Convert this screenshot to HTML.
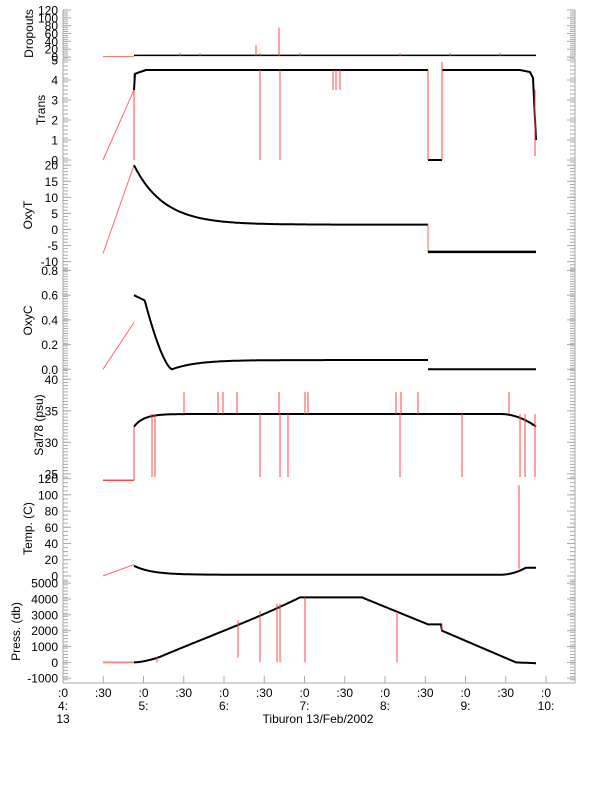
<!DOCTYPE html>
<html><head><meta charset="utf-8"><style>body{margin:0;background:#fff}svg{display:block}text{font-family:"Liberation Sans",sans-serif;font-size:12px;fill:#000}</style></head>
<body><svg id="s" width="612" height="785" xmlns="http://www.w3.org/2000/svg"></svg>
<script>
const S=document.getElementById('s');let h='';
const X=t=>63+80.5*t;
const L=63,R=575;
function panel(top,bot,vmin,vmax,ticks,minor,title,tx0,fmt){
 const Y=v=>bot-(v-vmin)/(vmax-vmin)*(bot-top);
 h+=`<line x1="${L}" y1="${top}" x2="${L}" y2="${bot}" stroke="#aaa"/><line x1="${R}" y1="${top}" x2="${R}" y2="${bot}" stroke="#aaa"/>`;
 for(let v=vmin;v<=vmax+1e-9;v+=minor){const y=Y(v).toFixed(1);h+=`<line x1="${L}" y1="${y}" x2="${L+5}" y2="${y}" stroke="#aaa"/><line x1="${R-5}" y1="${y}" x2="${R}" y2="${y}" stroke="#aaa"/>`;}
 ticks.forEach(v=>{const y=Y(v);h+=`<line x1="${L}" y1="${y}" x2="${L+8}" y2="${y}" stroke="#aaa"/><line x1="${R-8}" y1="${y}" x2="${R}" y2="${y}" stroke="#aaa"/><text x="58" y="${y+4.5}" text-anchor="end">${fmt?fmt(v):v}</text>`;});
 const cy=(top+bot)/2;h+=`<text transform="translate(${tx0},${cy}) rotate(-90)" text-anchor="middle">${title}</text>`;
 return Y;
}
function path(pts,Y,col,w){h+=`<polyline fill="none" stroke="${col}" stroke-width="${w}" points="${pts.map(p=>X(p[0]).toFixed(1)+','+Y(p[1]).toFixed(1)).join(' ')}"/>`;}
function spk(xs,Y,a,b){xs.forEach(x=>{h+=`<line x1="${x}" y1="${Y(a)}" x2="${x}" y2="${Y(b)}" stroke="#f44" stroke-width="1"/>`;});}
const tx=x=>(x-63)/80.5;
function fn(f,x0,x1){const p=[];for(let x=x0;x<=x1;x+=1)p.push([tx(x),f(x)]);return p;}
// Dropouts
let Y=panel(10,57,0,120,[0,20,40,60,80,100,120],5,'Dropouts',33);
path([[tx(103),1],[tx(134),1]],Y,'#f66',1);
path([[tx(134),4],[tx(536),4]],Y,'#000',1.5);
spk([180,200,256,260,279,300,400,450,500],Y,3,10);spk([279],Y,4,75);spk([256],Y,4,30);
// Trans
Y=panel(58,162,-0.1,5.1,[0,1,2,3,4,5],0.2,'Trans',45);
path([[tx(103),0],[tx(134),3.5]],Y,'#f66',1);
spk([134],Y,0,4.3);
path([[tx(134),3.5],[tx(135),4.3],[tx(140),4.4],[tx(146),4.5],[tx(428),4.5]],Y,'#000',2);
path([[tx(442),4.5],[tx(520),4.5],[tx(530),4.4],[tx(533),4.1],[tx(536),1]],Y,'#000',2);
path([[tx(428),0],[tx(442),0]],Y,'#000',2);
spk([260,280,428,442],Y,0,4.5);spk([442],Y,4.5,4.9);spk([333,336,340],Y,3.5,4.5);spk([535],Y,0.2,3.5);
// OxyT
Y=panel(162,268,-12,21,[-10,-5,0,5,10,15,20],1,'OxyT',32);
path([[tx(103),-7.5],[tx(134),20]],Y,'#f66',1);
path(fn(x=>1.5+18.5*Math.exp(-(x-134)/30),134,428),Y,'#000',2);
path([[tx(428),1.5],[tx(428),-7]],Y,'#f66',1);
path([[tx(428),-7],[tx(536),-7]],Y,'#000',2.5);
// OxyC
Y=panel(268,373,-0.03,0.82,[0.0,0.2,0.4,0.6,0.8],0.02,'OxyC',32,v=>v.toFixed(1));
path([[tx(103),0],[tx(134),0.38]],Y,'#f66',1);
path(fn(x=>{if(x<145)return 0.6-(x-134)*0.004;if(x<172)return 0.55*Math.pow(1-(x-145)/27,1.5);return 0.075-0.075*Math.exp(-(x-172)/25);},134,428),Y,'#000',2);
path([[tx(428),0],[tx(536),0]],Y,'#000',2);
// Sal
Y=panel(373,477,24.5,41,[25,30,35,40],0.5,'Sal78 (psu)',43);
path([[tx(103),24],[tx(134),24]],Y,'#f44',1.5);
spk([134],Y,24,32.5);
path(fn(x=>x<500?34.5-2*Math.exp(-(x-134)/10):34.5-2*Math.pow((x-500)/36,2),134,536),Y,'#000',2);
spk([152,155,260,280,288,400,462,520,525,535],Y,24.5,34.5);
spk([184,218,223,237,279,305,308,396,401,418,509],Y,34.5,38);
// Temp
Y=panel(477,580,-5,122,[0,20,40,60,80,100,120],5,'Temp. (C)',32);
path([[tx(103),0],[tx(134),14]],Y,'#f66',1);
path(fn(x=>{if(x<500)return 1.5+11*Math.exp(-(x-134)/18);const v=1.5+8*Math.pow((x-500)/25,2);return v>10?10:v;},134,536),Y,'#000',2);
spk([519],Y,9,112);
// Press
Y=panel(580,683,-1300,5200,[-1000,0,1000,2000,3000,4000,5000],200,'Press. (db)',20);
path([[tx(103),0],[tx(134),0]],Y,'#f88',2);
path(fn(x=>{if(x<160)return 350*Math.pow((x-134)/26,1.6);if(x<300)return 350+3750*(x-160)/140*(1+0.15*((x-160)/140)*((x-300)/140));if(x<362)return 4100;if(x<428)return 4100-1700*(x-362)/66;if(x<442)return 2400;if(x<516)return 2000-2000*(x-442)/74;return -50*(x-516)/20;},134,536),Y,'#000',2);
spk([157],Y,0,330);spk([238],Y,300,2650);spk([260],Y,0,3250);spk([277,280],Y,0,3700);spk([305],Y,0,4100);spk([397],Y,0,3200);spk([442],Y,2000,2400);
// bottom axis
h+=`<line x1="${L}" y1="683" x2="${R}" y2="683" stroke="#aaa"/>`;
const lab=[[':0','4:','13'],[':30'],[':0','5:'],[':30'],[':0','6:'],[':30'],[':0','7:'],[':30'],[':0','8:'],[':30'],[':0','9:'],[':30'],[':0','10:']];
lab.forEach((l,i)=>{const x=X(i/2);h+=`<line x1="${x}" y1="676" x2="${x}" y2="683" stroke="#aaa"/>`;l.forEach((s,j)=>{h+=`<text x="${x}" y="${697+j*13}" text-anchor="middle">${s}</text>`;});});
h+=`<text x="318" y="723" text-anchor="middle">Tiburon 13/Feb/2002</text>`;
S.innerHTML=h;
</script></body></html>
